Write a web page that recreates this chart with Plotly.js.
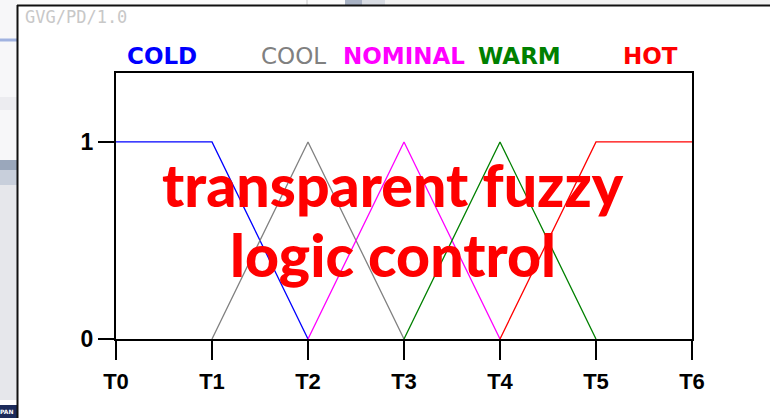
<!DOCTYPE html>
<html>
<head>
<meta charset="utf-8">
<script src="https://cdn.plot.ly/plotly-3.0.1.min.js"></script>
<style>html,body{margin:0;padding:0;background:#fff;}#chart{width:770px;height:418px;}</style>
</head>
<body>
<div id="chart"></div>
<script>
// ---- data ----
var tickLabels = ["T0", "T1", "T2", "T3", "T4", "T5", "T6"];
var tickPositions = [0, 1, 2, 3, 4, 5, 6];
var seriesNames = ["COLD", "COOL", "NOMINAL", "WARM", "HOT"];
var seriesColors = ["#0000ff", "#808080", "#ff00ff", "#008000", "#ff0000"];
var coldX = [0, 1, 2];    var coldY = [1, 1, 0];
var coolX = [1, 2, 3];    var coolY = [0, 1, 0];
var nominalX = [2, 3, 4]; var nominalY = [0, 1, 0];
var warmX = [3, 4, 5];    var warmY = [0, 1, 0];
var hotX = [4, 5, 6];     var hotY = [0, 1, 1];
var yTickVals = [0, 1];
var yTickText = ["0", "1"];
var overlayLines = ["transparent fuzzy", "logic control"];

// ---- layout helpers ----
var L = 116, T = 73, W = 576, H = 266;
function X(px) { return (px - L) / W; }
function Y(py) { return (T + H - py) / H; }

var xs = [coldX, coolX, nominalX, warmX, hotX];
var ys = [coldY, coolY, nominalY, warmY, hotY];
var traces = seriesNames.map(function (n, i) {
  return { x: xs[i], y: ys[i], name: n, type: "scatter", mode: "lines",
    line: { color: seriesColors[i], width: 1.3 }, showlegend: false, hoverinfo: "skip" };
});

var legendX = [162, 293, 404, 519, 650];
var annotations = seriesNames.map(function (n, i) {
  return { text: n, xref: "paper", yref: "paper", x: X(legendX[i]), y: Y(56),
    xanchor: "center", yanchor: "middle", showarrow: false,
    font: { family: "DejaVu Sans", size: 23, color: seriesColors[i], weight: n === "COOL" ? 400 : 700 } };
});
var overlayY = [184, 254];
overlayLines.forEach(function (t, i) {
  annotations.push({ text: t, xref: "paper", yref: "paper", x: X(393), y: Y(overlayY[i]),
    xanchor: "center", yanchor: "middle", showarrow: false,
    font: { family: "Lato", size: 59, color: "#ff0000", weight: 900 } });
});
annotations.push({ text: "GVG/PD/1.0", xref: "paper", yref: "paper", x: X(23), y: Y(17),
  xanchor: "left", yanchor: "middle", showarrow: false,
  font: { family: "DejaVu Sans Mono", size: 17, color: "#c8c8c8" } });
annotations.push({ text: "<b>PAN</b>", xref: "paper", yref: "paper", x: X(16), y: Y(411),
  xanchor: "right", yanchor: "middle", showarrow: false,
  font: { family: "DejaVu Sans", size: 6, color: "#ffffff" } });

function rect(x0, y0, x1, y1, color) {
  return { type: "rect", xref: "paper", yref: "paper", x0: X(x0), x1: X(x1), y0: Y(y0), y1: Y(y1),
    fillcolor: color, line: { width: 0 }, layer: "below" };
}
function line(x0, y0, x1, y1, color, w) {
  return { type: "line", xref: "paper", yref: "paper", x0: X(x0), x1: X(x1), y0: Y(y0), y1: Y(y1),
    line: { color: color, width: w }, layer: "above" };
}
var shapes = [
  rect(0, 0, 770, 5, "#f2f2f2"),
  rect(0, 0, 345, 5, "#fbfbfb"),
  rect(345, 0, 362, 5, "#a8b2c4"),
  rect(362, 0, 385, 5, "#d8dce3"),
  rect(0, 0, 17, 160, "#f7f7f9"),
  rect(0, 97, 17, 110, "#ececf0"),
  rect(0, 160, 17, 170, "#9aa7bb"),
  rect(0, 170, 17, 185, "#c8cfdb"),
  rect(0, 185, 17, 400, "#e6e7eb"),
  rect(0, 400, 17, 405, "#ffffff"),
  rect(0, 405, 17, 418, "#1c2b5a"),
  line(0, 40, 17, 40, "#a0b2e0", 3),
  line(307, 0, 307, 5, "#c8c8c8", 1),
  line(17.5, 5, 17.5, 418, "#111111", 2),
  line(17, 5.5, 770, 5.5, "#111111", 2)
];

var layout = {
  width: 770, height: 418,
  margin: { l: L, r: 770 - L - W, t: T, b: 418 - T - H, pad: 0 },
  paper_bgcolor: "#ffffff", plot_bgcolor: "#ffffff",
  showlegend: false,
  xaxis: { range: [0, 6], tickvals: tickPositions, ticktext: tickLabels,
    showgrid: false, zeroline: false, showline: true, linecolor: "#000", linewidth: 2, mirror: true,
    ticks: "outside", ticklen: 19, tickwidth: 2, tickcolor: "#000", ticklabelstandoff: 3,
    tickfont: { family: "Liberation Sans", size: 22, color: "#000", weight: 700 }, fixedrange: true },
  yaxis: { range: [0, 1.35], tickvals: yTickVals, ticktext: yTickText,
    showgrid: false, zeroline: false, showline: true, linecolor: "#000", linewidth: 2, mirror: true,
    ticks: "outside", ticklen: 16, tickwidth: 2, tickcolor: "#000", ticklabelstandoff: 0,
    tickfont: { family: "Liberation Sans", size: 23, color: "#000", weight: 700 }, fixedrange: true },
  annotations: annotations,
  shapes: shapes
};
Plotly.newPlot("chart", traces, layout, { displayModeBar: false, staticPlot: true });
</script>
</body>
</html>
